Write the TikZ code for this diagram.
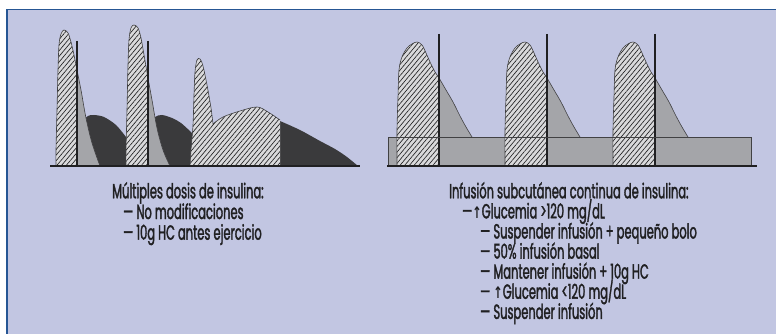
\documentclass[tikz,border=0pt]{standalone}
\usepackage{fontspec}
\setmainfont{Poppins}[FakeStretch=0.56, FakeBold=1.6]
\newfontfamily\symfont{DejaVu Sans Bold}[FakeStretch=0.7]
\usetikzlibrary{patterns.meta}
\definecolor{bgblue}{RGB}{194,198,226}
\definecolor{frameblue}{RGB}{38,86,148}
\definecolor{hatchbg}{RGB}{217,217,219}
\definecolor{tailgray}{RGB}{164,165,169}
\definecolor{darkfill}{RGB}{58,58,60}
\definecolor{inkc}{RGB}{32,32,34}
\tikzset{
  hatched/.style={fill=hatchbg, postaction={pattern={Lines[angle=50,distance=3.6pt,line width=0.65pt]}, pattern color=inkc}},
  outl/.style={draw=inkc!85, line width=0.6pt},
  vline/.style={draw=inkc, line width=1.8pt},
  axis/.style={draw=inkc, line width=2pt},
  txt/.style={anchor=base west, inner sep=0pt, text=inkc, font=\fontsize{20.5}{21}\selectfont},
}
\newcommand\arr{{\symfont\fontsize{16}{16}\selectfont ↑}}
% right-panel peak curve
\newcommand\ciicurve{plot[smooth,tension=0.55] coordinates {(397,166) (397,130) (398,97) (399,70) (402,57) (407,48) (412,44) (417,42) (422,45) (426,53) (430,62) (435,72) (439,78) (446,90) (453,102) (460,116) (466,127) (472,137)}}
\newcommand\ciipeak[1]{%
  \begin{scope}[xshift=#1]
    \fill[tailgray] \ciicurve -- (472,166) -- cycle;
    \begin{scope}
      \clip (380,0) rectangle (439,166);
      \path[hatched] \ciicurve -- (472,166) -- cycle;
    \end{scope}
    \draw[outl] \ciicurve;
    \draw[vline] (439,34) -- (439,166);
  \end{scope}}
\begin{document}
\begin{tikzpicture}[x=1pt,y=-1pt]
\useasboundingbox (0,0) rectangle (776,334);
\fill[white] (0,0) rectangle (776,334);
\fill[bgblue] (7,9.5) rectangle (776,334);
\draw[frameblue, line width=1.6pt] (7,334) -- (7,9.5) -- (776,9.5);

% ---------- left panel ----------
\fill[darkfill] (80,166) -- plot[smooth,tension=0.5] coordinates {(80,140) (83,122) (88,116) (94,115) (104,117) (116,125) (126,137)}
  -- (130,140) -- plot[smooth,tension=0.5] coordinates {(150,125) (155,117) (162,115) (172,118) (181,123) (192,133)}
  -- (240,135) -- (279,121) -- plot[smooth,tension=0.5] coordinates {(280,121) (300,130) (320,141) (335,149) (347,157) (358,166)} -- cycle;

% peak 1
\fill[tailgray] (56,166) -- plot[smooth,tension=0.55] coordinates {(56,150) (57,110) (58,70) (59,45) (61,34) (64,30) (68,33) (71,42) (74,55) (77,70) (81,90) (86,118) (92,143) (100,166)} -- cycle;
\begin{scope}
  \clip (40,0) rectangle (77,166);
  \path[hatched] (56,166) -- plot[smooth,tension=0.55] coordinates {(56,150) (57,110) (58,70) (59,45) (61,34) (64,30) (68,33) (71,42) (74,55) (77,70) (81,90) (86,118) (92,143) (100,166)} -- cycle;
\end{scope}
\draw[outl] plot[smooth,tension=0.55] coordinates {(56,166) (56,150) (57,110) (58,70) (59,45) (61,34) (64,30) (68,33) (71,42) (74,55) (77,70) (81,90) (86,118) (92,143) (100,166)};
\draw[vline] (77,41) -- (77,166);

% peak 2
\fill[tailgray] (126,166) -- plot[smooth,tension=0.55] coordinates {(126,150) (127,110) (128,65) (129,40) (131,28) (134,25) (138,28) (141,38) (144,55) (148,78) (152,100) (157,128) (163,150) (170,166)} -- cycle;
\begin{scope}
  \clip (110,0) rectangle (148,166);
  \path[hatched] (126,166) -- plot[smooth,tension=0.55] coordinates {(126,150) (127,110) (128,65) (129,40) (131,28) (134,25) (138,28) (141,38) (144,55) (148,78) (152,100) (157,128) (163,150) (170,166)} -- cycle;
\end{scope}
\draw[outl] plot[smooth,tension=0.55] coordinates {(126,166) (126,150) (127,110) (128,65) (129,40) (131,28) (134,25) (138,28) (141,38) (144,55) (148,78) (152,100) (157,128) (163,150) (170,166)};
\draw[vline] (148,41) -- (148,166);

% peak 3 with broad hump
\path[hatched] (190,166) -- plot[smooth,tension=0.55] coordinates {(191,150) (193,125) (194,95) (195,72) (197,60) (200,59) (203,66) (207,85) (211,108) (213,124)}
  -- plot[smooth,tension=0.55] coordinates {(213,124) (223,117) (240,111) (257,107) (268,112) (280,120)} -- (280,166) -- cycle;
\draw[outl] plot[smooth,tension=0.55] coordinates {(190,166) (191,150) (193,125) (194,95) (195,72) (197,60) (200,59) (203,66) (207,85) (211,108) (213,124)}
  -- plot[smooth,tension=0.55] coordinates {(213,124) (223,117) (240,111) (257,107) (268,112) (280,120)};

\draw[axis] (50,166) -- (360,166);

% ---------- right panel ----------
\fill[tailgray] (388,137) rectangle (751,166);
\ciipeak{0}
\ciipeak{108}
\ciipeak{216}
\draw[outl] (388,137) rectangle (751,166);
\draw[axis] (387,166) -- (757,166);

% ---------- texts ----------
\node[txt] (l1) at (112,198.3) {Múltiples dosis de insulina:};
\node[txt] (l2) at (123,219) {— No modificaciones};
\node[txt] (l3) at (123,239.7) {— 10g HC antes ejercicio};

\node[txt] (r1) at (449,198.3) {Infusión subcutánea continua de insulina:};
\node[txt] (r2) at (462,218.4) {—\arr Glucemia >120 mg/dL};
\node[txt] (r3) at (480,238.5) {— Suspender infusión + pequeño bolo};
\node[txt] (r4) at (480,258.6) {— 50\% infusión basal};
\node[txt] (r5) at (480,278.7) {— Mantener infusión + 10g HC};
\node[txt] (r6) at (480,298.8) {— \arr Glucemia <120 mg/dL};
\node[txt] (r7) at (480,318.9) {— Suspender infusión};
\end{tikzpicture}
\end{document}
